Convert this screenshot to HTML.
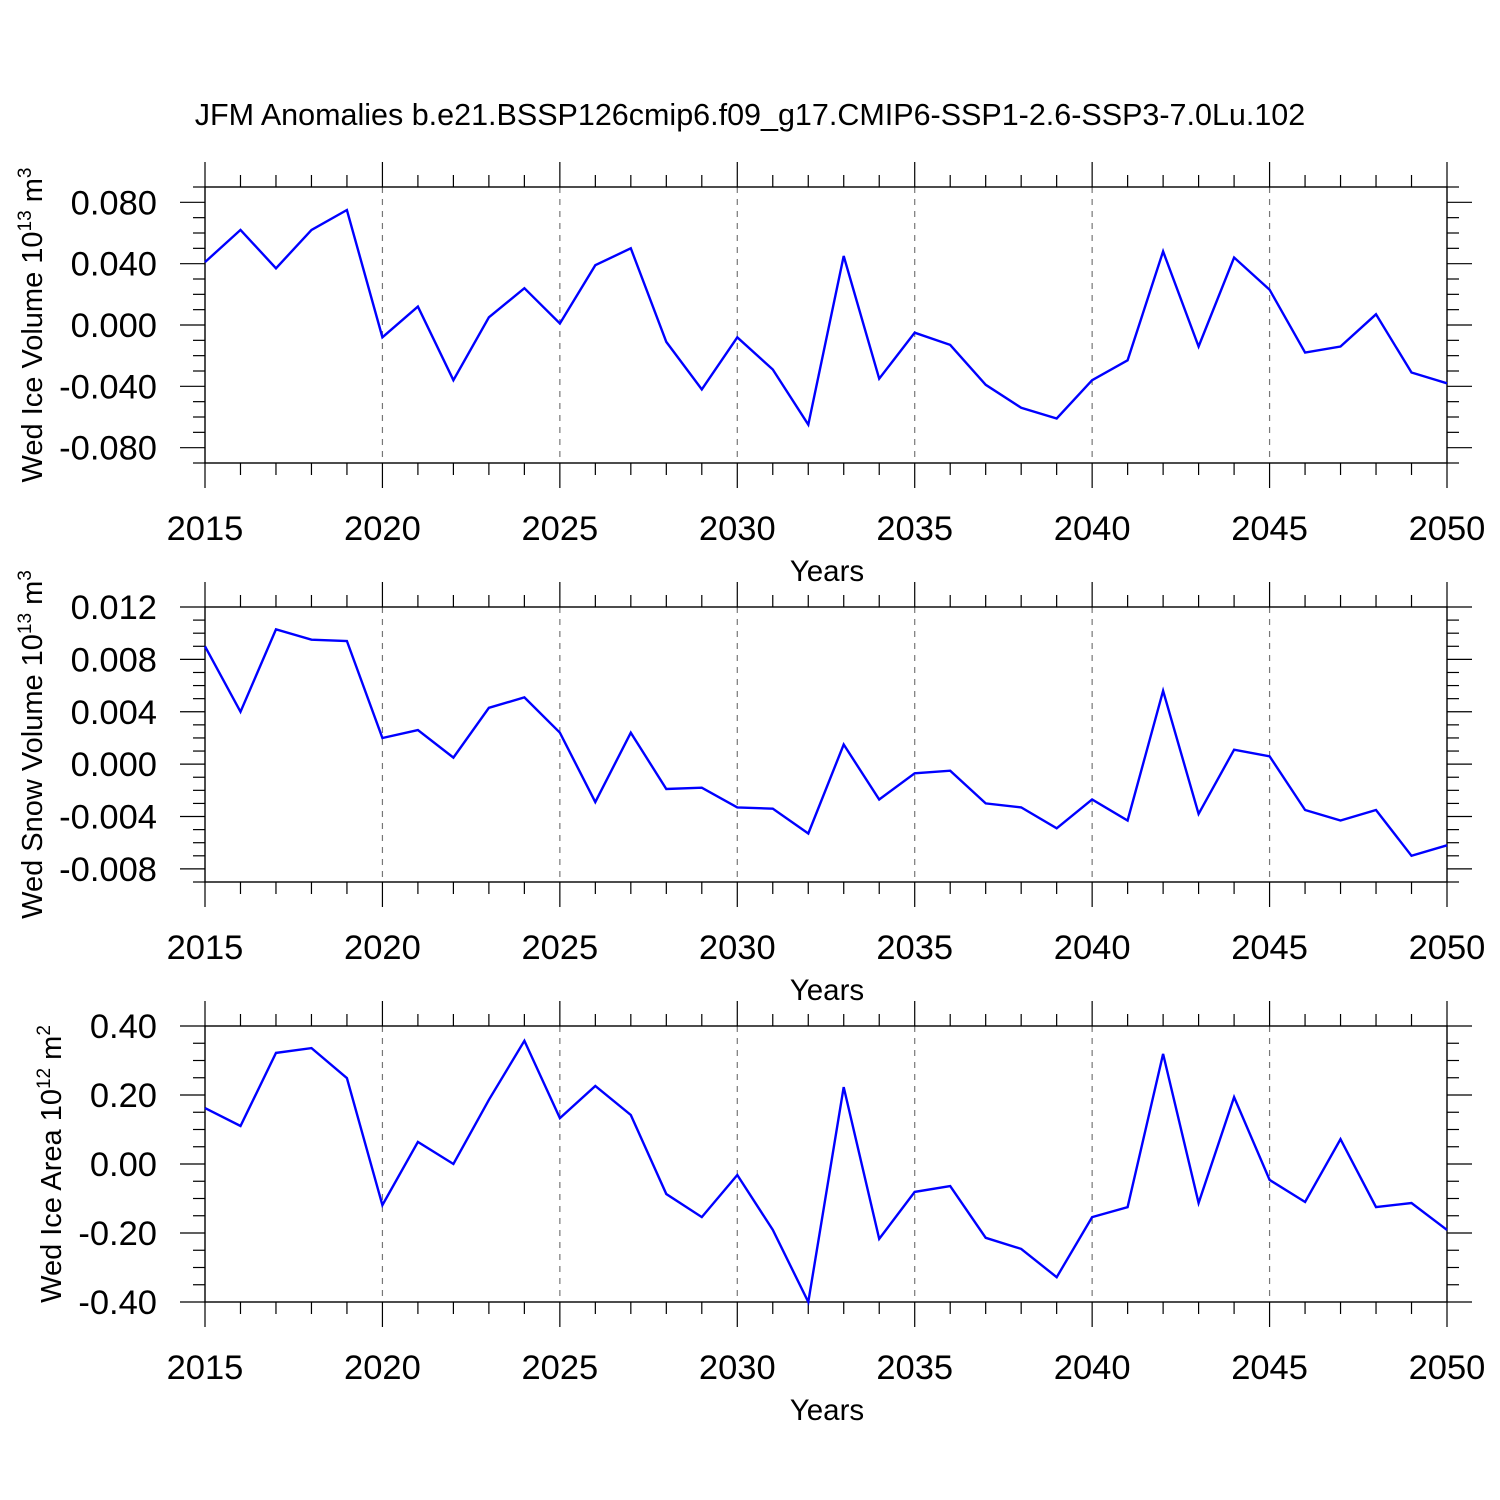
<!DOCTYPE html>
<html><head><meta charset="utf-8"><style>
html,body{margin:0;padding:0;background:#fff}
svg{display:block;font-family:"Liberation Sans",sans-serif}
</style></head><body>
<svg id="chart" width="1500" height="1500" viewBox="0 0 1500 1500">
<rect width="1500" height="1500" fill="#fff"/>
<text x="750" y="125" font-size="30.5" text-anchor="middle">JFM Anomalies b.e21.BSSP126cmip6.f09_g17.CMIP6-SSP1-2.6-SSP3-7.0Lu.102</text>
</svg>
<script>
const years = [];
for (let y = 2015; y <= 2050; y++) years.push(y);
const iceVolume = [0.041,0.062,0.037,0.062,0.075,-0.008,0.012,-0.036,0.005,0.024,0.001,0.039,0.050,-0.011,-0.042,-0.008,-0.029,-0.065,0.045,-0.035,-0.005,-0.013,-0.039,-0.054,-0.061,-0.036,-0.023,0.048,-0.014,0.044,0.023,-0.018,-0.014,0.007,-0.031,-0.038];
const snowVolume = [0.0090,0.0040,0.0103,0.0095,0.0094,0.0020,0.0026,0.0005,0.0043,0.0051,0.0024,-0.0029,0.0024,-0.0019,-0.0018,-0.0033,-0.0034,-0.0053,0.0015,-0.0027,-0.0007,-0.0005,-0.0030,-0.0033,-0.0049,-0.0027,-0.0043,0.0056,-0.0038,0.0011,0.0006,-0.0035,-0.0043,-0.0035,-0.0070,-0.0062];
const iceArea = [0.162,0.110,0.322,0.336,0.249,-0.119,0.064,0.0,0.186,0.357,0.133,0.226,0.142,-0.087,-0.154,-0.032,-0.191,-0.400,0.223,-0.217,-0.081,-0.064,-0.214,-0.246,-0.328,-0.154,-0.125,0.319,-0.113,0.194,-0.046,-0.110,0.072,-0.125,-0.113,-0.191];
const xTickLabels = ["2015","2020","2025","2030","2035","2040","2045","2050"];
const iceVolTicks = ["0.080","0.040","0.000","-0.040","-0.080"];
const snowTicks = ["0.012","0.008","0.004","0.000","-0.004","-0.008"];
const areaTicks = ["0.40","0.20","0.00","-0.20","-0.40"];

const NS = "http://www.w3.org/2000/svg";
const svg = document.getElementById('chart');
function mk(tag, attrs, parent) {
  const e = document.createElementNS(NS, tag);
  for (const k in attrs) e.setAttribute(k, attrs[k]);
  (parent || svg).appendChild(e);
  return e;
}
const X0 = 205, X1 = 1447;
const xs = v => X0 + (v - 2015) / 35 * (X1 - X0);

function panel(cfg) {
  const g = mk('g', {});
  
  
  const top = cfg.top, bot = cfg.bot;
  const ys = v => top + (cfg.max - v) / (cfg.max - cfg.min) * (bot - top);
  for (let yr = 2020; yr <= 2045; yr += 5) {
    const l = mk('line', {x1: xs(yr), x2: xs(yr), y1: top, y2: bot, stroke: '#777', 'stroke-width': 1.2, 'stroke-dasharray': '6,6'}, g);
    
    
  }
  for (let yr = 2015; yr <= 2050; yr++) {
    const major = (yr % 5 === 0);
    const L = major ? 25 : 12;
    mk('line', {x1: xs(yr), x2: xs(yr), y1: top, y2: top - L, stroke: '#000', 'stroke-width': 1.2}, g);
    mk('line', {x1: xs(yr), x2: xs(yr), y1: bot, y2: bot + L, stroke: '#000', 'stroke-width': 1.2}, g);
  }
  xTickLabels.forEach(t => {
    const tx = mk('text', {x: xs(+t), y: bot + 77, 'font-size': 34.5, 'text-anchor': 'middle'}, g);
    tx.textContent = t;
    
    
  });
  const nMinor = Math.round((cfg.max - cfg.min) / cfg.minor);
  for (let i = 0; i <= nMinor; i++) {
    const v = cfg.min + i * cfg.minor;
    const isMajor = cfg.ticks.some(t => Math.abs(+t - v) < cfg.minor / 10);
    const L = isMajor ? 25 : 12;
    mk('line', {x1: X0, x2: X0 - L, y1: ys(v), y2: ys(v), stroke: '#000', 'stroke-width': 1.2}, g);
    mk('line', {x1: X1, x2: X1 + L, y1: ys(v), y2: ys(v), stroke: '#000', 'stroke-width': 1.2}, g);
  }
  cfg.ticks.forEach(t => {
    const tx = mk('text', {x: 157, y: ys(+t) + 12, 'font-size': 34.5, 'text-anchor': 'end'}, g);
    tx.textContent = t;
    
    
  });
  mk('rect', {x: X0, y: top, width: X1 - X0, height: bot - top, fill: 'none', stroke: '#000', 'stroke-width': 1.4}, g);
  const pts = years.map((yr, i) => xs(yr).toFixed(1) + ',' + ys(cfg.data[i]).toFixed(1)).join(' ');
  const pl = mk('polyline', {points: pts, fill: 'none', stroke: '#0000ff', 'stroke-width': 2.4, 'stroke-linejoin': 'miter'}, g);
  
  
  const xt = mk('text', {x: 827, y: bot + 118, 'font-size': 29.5, 'text-anchor': 'middle'}, g);
  xt.textContent = 'Years';
  
  
  const cy = (top + bot) / 2;
  const yt = mk('text', {x: 0, y: 0, 'font-size': 29, 'text-anchor': 'middle', transform: `translate(${cfg.ytx},${cy}) rotate(-90)`}, g);
  
  
  yt.innerHTML = cfg.ytitle + ' 10<tspan dy="-11" font-size="19">' + cfg.exp + '</tspan><tspan dy="11"> m</tspan><tspan dy="-11" font-size="19">' + cfg.unit + '</tspan>';
}

panel({name: 'ice-volume-panel', top: 187, bot: 463, min: -0.09, max: 0.09, minor: 0.01, ticks: iceVolTicks, data: iceVolume, ytitle: 'Wed Ice Volume', exp: '13', unit: '3', ytx: 42});
panel({name: 'snow-volume-panel', top: 607, bot: 882, min: -0.009, max: 0.012, minor: 0.001, ticks: snowTicks, data: snowVolume, ytitle: 'Wed Snow Volume', exp: '13', unit: '3', ytx: 42});
panel({name: 'ice-area-panel', top: 1026, bot: 1302, min: -0.4, max: 0.4, minor: 0.05, ticks: areaTicks, data: iceArea, ytitle: 'Wed Ice Area', exp: '12', unit: '2', ytx: 61});
</script>
</body></html>
